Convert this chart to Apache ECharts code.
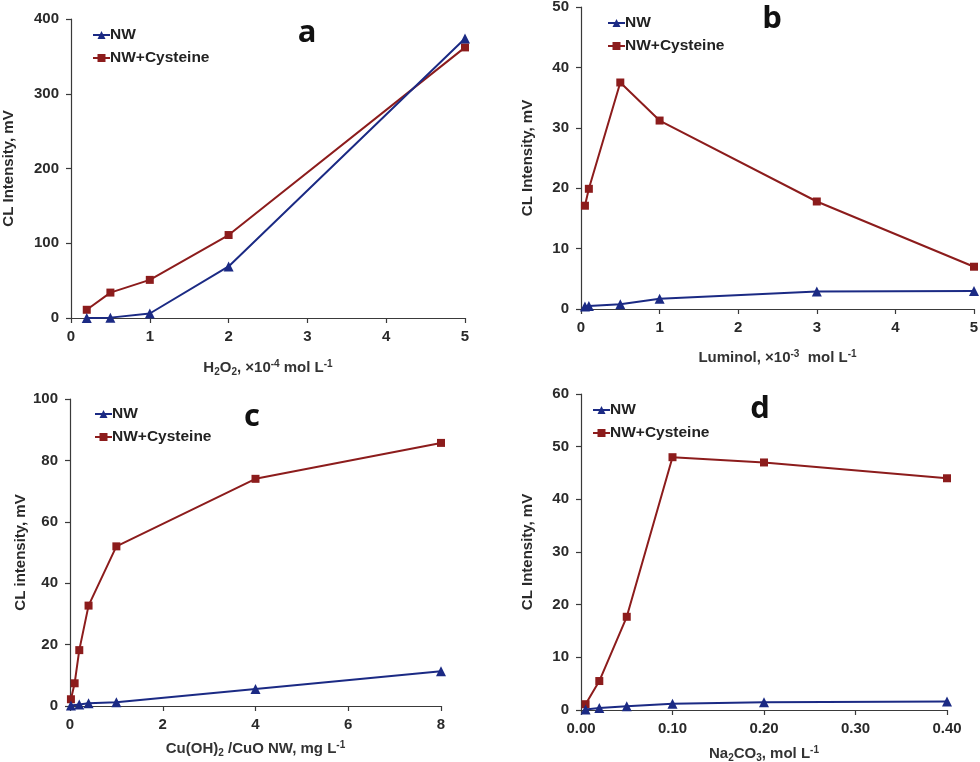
<!DOCTYPE html>
<html style="height: 100%">
<head>
    <meta charset="utf-8">
</head>
<body style="height: 100%; margin: 0; background: #fff">
    <div id="container" style="width: 980px; height: 762px"></div>

    <script type="text/javascript" src="https://cdn.jsdelivr.net/npm/echarts@6.0.0/dist/echarts.min.js"></script>

    <script type="text/javascript">
        // panel a: H2O2
        var h2o2X = [0.2, 0.5, 1, 2, 5];
        var h2o2NW = [0, 0.5, 6, 69, 374];
        var h2o2Cys = [11, 34, 51, 111, 362];

        // panel b: luminol
        var lumX = [0.05, 0.1, 0.5, 1, 3, 5];
        var lumNW = [0.4, 0.5, 0.8, 1.7, 2.9, 3.0];
        var lumCys = [17.1, 19.9, 37.5, 31.2, 17.8, 7.0];

        // panel c: nanowire amount
        var nwX = [0.02, 0.2, 0.4, 1, 4, 8];
        var nwNW = [0.2, 0.5, 0.9, 1.2, 5.5, 11.3];
        var nwCysX = [0.02, 0.1, 0.2, 0.4, 1, 4, 8];
        var nwCys = [2.2, 7.4, 18.2, 32.7, 52, 74, 85.7];

        // panel d: Na2CO3
        var naX = [0.005, 0.02, 0.05, 0.1, 0.2, 0.4];
        var naNW = [0.1, 0.4, 0.7, 1.2, 1.45, 1.6];
        var naCys = [1.1, 5.5, 17.7, 48, 47, 44];

        var panelLetters = ['a', 'b', 'c', 'd'];
        var seriesNames = ['NW', 'NW+Cysteine'];

        var blue = '#1b2a84';
        var red = '#8c1c1c';
        var font = 'Liberation Sans';

        function pairs(xs, ys) {
            return xs.map(function (x, i) { return [x, ys[i]]; });
        }

        var grids = [
            { left: 71, top: 19, width: 394, height: 299 },
            { left: 581, top: 7, width: 393, height: 302 },
            { left: 70, top: 399, width: 371, height: 307 },
            { left: 581, top: 394, width: 366, height: 316 }
        ];
        grids.forEach(function (g) { g.outerBoundsMode = 'none'; });

        // sub/superscripts in the x axis titles
        var subRich = {
            n: { fontFamily: font, fontWeight: 'bold', fontSize: 15, color: '#333', lineHeight: 18, verticalAlign: 'middle' },
            s: { fontFamily: font, fontWeight: 'bold', fontSize: 10, color: '#333', lineHeight: 6, verticalAlign: 'bottom' },
            p: { fontFamily: font, fontWeight: 'bold', fontSize: 10, color: '#333', lineHeight: 6, verticalAlign: 'top' }
        };

        var xNames = [
            '{n|H}{s|2}{n|O}{s|2}{n|, ×10}{p|-4}{n| mol L}{p|-1}',
            '{n|Luminol, ×10}{p|-3}{n|  mol L}{p|-1}',
            '{n|Cu(OH)}{s|2}{n| /CuO NW, mg L}{p|-1}',
            '{n|Na}{s|2}{n|CO}{s|3}{n|, mol L}{p|-1}'
        ];
        var xMax = [5, 5, 8, 0.4];
        var xInt = [1, 1, 2, 0.1];
        var xGap = [41, 40, 34, 35];
        var yMax = [400, 50, 100, 60];
        var yInt = [100, 10, 20, 10];
        var yNames = ['CL Intensity, mV', 'CL Intensity, mV', 'CL intensity, mV', 'CL Intensity, mV'];
        var yGap = [55, 46, 42, 46];

        var axisLine = { show: true, lineStyle: { color: '#3a3a3a', width: 1.2 } };
        var axisTick = { show: true, inside: false, length: 5, lineStyle: { color: '#3a3a3a', width: 1.2 } };
        var axisLabel = { fontFamily: font, fontWeight: 'bold', fontSize: 15, color: '#2a2a2a' };

        var xAxes = grids.map(function (g, i) {
            return {
                type: 'value', gridIndex: i, min: 0, max: xMax[i], interval: xInt[i],
                name: xNames[i], nameLocation: 'middle', nameGap: xGap[i],
                nameTextStyle: { rich: subRich },
                axisLine: axisLine, axisTick: axisTick, splitLine: { show: false },
                axisLabel: Object.assign({}, axisLabel, {
                    margin: 11,
                    formatter: i === 3 ? function (v) { return v.toFixed(2); } : '{value}'
                })
            };
        });
        var yAxes = grids.map(function (g, i) {
            return {
                type: 'value', gridIndex: i, min: 0, max: yMax[i], interval: yInt[i],
                name: yNames[i], nameLocation: 'middle', nameGap: yGap[i], nameRotate: 90,
                nameTextStyle: { fontFamily: font, fontWeight: 'bold', fontSize: 15, color: '#2a2a2a' },
                axisLine: axisLine, axisTick: axisTick, splitLine: { show: false },
                axisLabel: Object.assign({}, axisLabel, { margin: 12 })
            };
        });

        function nwSeries(i, data) {
            return {
                name: 'NW', type: 'line', xAxisIndex: i, yAxisIndex: i, data: data,
                symbol: 'triangle', symbolSize: 10, z: 3,
                lineStyle: { color: blue, width: 2 }, itemStyle: { color: blue }
            };
        }
        function cysSeries(i, data) {
            return {
                name: 'NW+Cysteine', type: 'line', xAxisIndex: i, yAxisIndex: i, data: data,
                symbol: 'rect', symbolSize: 8, z: 2,
                lineStyle: { color: red, width: 2 }, itemStyle: { color: red }
            };
        }

        var series = [
            nwSeries(0, pairs(h2o2X, h2o2NW)), cysSeries(0, pairs(h2o2X, h2o2Cys)),
            nwSeries(1, pairs(lumX, lumNW)), cysSeries(1, pairs(lumX, lumCys)),
            nwSeries(2, pairs(nwX, nwNW)), cysSeries(2, pairs(nwCysX, nwCys)),
            nwSeries(3, pairs(naX, naNW)), cysSeries(3, pairs(naX, naCys))
        ];

        var legendPos = [[92, 27], [607, 15], [94, 406], [592, 402]];
        var legends = legendPos.map(function (p) {
            return {
                left: p[0], top: p[1], orient: 'vertical', data: seriesNames, padding: 0,
                itemWidth: 17, itemHeight: 10, itemGap: 7, selectedMode: false,
                textStyle: { fontFamily: font, fontWeight: 'bold', fontSize: 15.5, color: '#222', padding: [0, 0, 0, -5] }
            };
        });

        var letterPos = [[307, 31], [772, 17], [252, 415], [760, 407]];
        var titles = letterPos.map(function (p, i) {
            return {
                text: panelLetters[i], left: p[0], top: p[1] - 13, textAlign: 'center', padding: 0,
                textStyle: { fontFamily: 'Open Sans', fontWeight: 'bold', fontSize: 31, color: '#111' }
            };
        });

        var dom = document.getElementById('container');
        var myChart = echarts.init(dom);
        myChart.setOption({
            animation: false,
            title: titles,
            legend: legends,
            grid: grids,
            xAxis: xAxes,
            yAxis: yAxes,
            series: series
        });
    </script>
</body>
</html>
